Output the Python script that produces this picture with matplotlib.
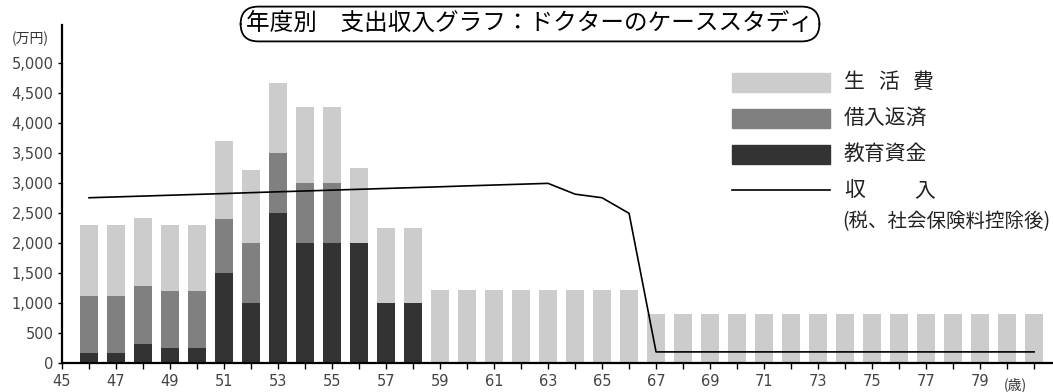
import matplotlib
matplotlib.use('Agg')
import matplotlib.pyplot as plt
from matplotlib.patches import Rectangle
from matplotlib.lines import Line2D
from matplotlib.ticker import FuncFormatter

plt.rcParams['font.family'] = ['Noto Sans CJK JP', 'DejaVu Sans']

# 年齢 (歳)
ages = list(range(46, 82))

# 万円
education = [180, 180, 320, 250, 250, 1500, 1000, 2500, 2000, 2000, 2000, 1000, 1000] + [0] * 23
loan = [950, 950, 970, 960, 960, 900, 1000, 1000, 1000, 1000, 0, 0, 0] + [0] * 23
living = [1170, 1170, 1130, 1090, 1090, 1300, 1230, 1170, 1270, 1270, 1250, 1250, 1250] \
    + [1220] * 8 + [820] * 15
income = [2760, 2774, 2788, 2802, 2816, 2830, 2845, 2859, 2873, 2887, 2901, 2915,
          2929, 2943, 2958, 2972, 2986, 3000, 2820, 2760, 2500] + [190] * 15

labels = ['生活費', '借入返済', '教育資金', '収入']
colors = ['#cccccc', '#808080', '#333333']

W, H = 1053, 392
fig = plt.figure(figsize=(W / 100, H / 100), dpi=100)
ax = fig.add_axes([62 / W, (H - 363.3) / H, 1 - 62 / W, (363.3 - 25) / H])

bw = 0.66
ax.bar(ages, education, bw, color=colors[2], zorder=2)
ax.bar(ages, loan, bw, bottom=education, color=colors[1], zorder=2)
bottom3 = [e + l for e, l in zip(education, loan)]
ax.bar(ages, living, bw, bottom=bottom3, color=colors[0], zorder=2)
ax.plot(ages, income, color='black', lw=1.2, zorder=3)

ax.set_xlim(45, 81.7)
ax.set_ylim(0, 5640)
ax.set_yticks(range(0, 5001, 500))
ax.yaxis.set_major_formatter(FuncFormatter(lambda v, p: f'{int(v):,}'))
ax.set_xticks(range(45, 82))
ax.set_xticklabels([str(a) if (a % 2 == 1 and a < 80) else '' for a in range(45, 82)])

for s in ['top', 'right']:
    ax.spines[s].set_visible(False)
for s in ['left', 'bottom']:
    ax.spines[s].set_linewidth(1.6)
ax.tick_params(axis='y', length=3, width=1, labelsize=10.5, labelcolor='#444444', pad=3)
ax.tick_params(axis='x', length=4, width=1, labelsize=10.5, labelcolor='#444444', pad=4)
for t in ax.get_xticklabels() + ax.get_yticklabels():
    t.set_fontfamily('DejaVu Sans')

fig.text(30 / W, 1 - 39 / H, '(万円)', fontsize=10, ha='center', va='center', color='#333333')
fig.text(1015 / W, 1 - 385 / H, '(歳)', fontsize=10, ha='center', va='center', color='#333333')

# タイトル
fig.text(530 / W, 1 - 24 / H, '年度別　支出収入グラフ：ドクターのケーススタディ',
         fontsize=17, ha='center', va='center', color='black',
         bbox=dict(boxstyle='round,pad=0.25,rounding_size=0.75', fc='white', ec='black', lw=1.3))

# 凡例
rows = [82, 118, 154]
for c, y in zip(colors, rows):
    fig.add_artist(Rectangle((732 / W, 1 - (y + 9.5) / H), 98 / W, 19 / H,
                             transform=fig.transFigure, color=c))
fig.add_artist(Line2D([732 / W, 830 / W], [1 - 190 / H, 1 - 190 / H],
                      transform=fig.transFigure, color='black', lw=1.2))
for i, ch in enumerate('生活費'):
    fig.text((844 + i * 34.5) / W, 1 - 82 / H, ch, fontsize=15, va='center', color='#222222')
fig.text(844 / W, 1 - 118 / H, labels[1], fontsize=15, va='center', color='#222222')
fig.text(844 / W, 1 - 154 / H, labels[2], fontsize=15, va='center', color='#222222')
fig.text(844 / W, 1 - 190 / H, labels[3][0], fontsize=15, va='center', color='#222222')
fig.text(914 / W, 1 - 190 / H, labels[3][1], fontsize=15, va='center', color='#222222')
fig.text(842 / W, 1 - 222 / H, '(税、社会保険料控除後)', fontsize=14, va='center', color='#222222')

fig.savefig('out.png', dpi=100)
